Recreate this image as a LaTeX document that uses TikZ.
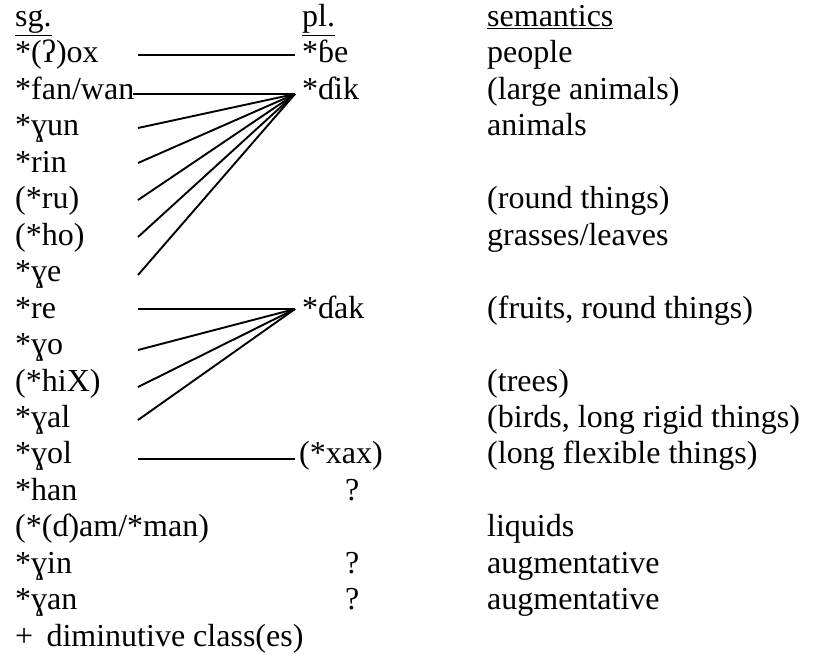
\documentclass[tikz,border=0pt]{standalone}
\usepackage{fontspec}
\setmainfont{Liberation Serif}
\begin{document}
\begin{tikzpicture}[x=1pt,y=-1pt,
  txt/.style={anchor=base west,inner sep=0pt,font=\fontsize{32}{36}\selectfont},
  conn/.style={line width=1.9pt}]
\useasboundingbox (0,0) rectangle (814,657);
\def\rowy#1{18.5+36.45*#1+8}
% headers
\node[txt] (hsg) at (15,{\rowy{0}}) {\underline{sg.}};
\node[txt] (hpl) at (302,{\rowy{0}}) {\underline{pl.}};
\node[txt] (hsem) at (487,{\rowy{0}}) {\underline{semantics}};
% singular column
\node[txt] (s1) at (15,{\rowy{1}}) {*(ʔ)ox};
\node[txt] (s2) at (15,{\rowy{2}}) {*fan/wan};
\node[txt] (s3) at (15,{\rowy{3}}) {*ɣun};
\node[txt] (s4) at (15,{\rowy{4}}) {*rin};
\node[txt] (s5) at (15,{\rowy{5}}) {(*ru)};
\node[txt] (s6) at (15,{\rowy{6}}) {(*ho)};
\node[txt] (s7) at (15,{\rowy{7}}) {*ɣe};
\node[txt] (s8) at (15,{\rowy{8}}) {*re};
\node[txt] (s9) at (15,{\rowy{9}}) {*ɣo};
\node[txt] (s10) at (15,{\rowy{10}}) {(*hiX)};
\node[txt] (s11) at (15,{\rowy{11}}) {*ɣal};
\node[txt] (s12) at (15,{\rowy{12}}) {*ɣol};
\node[txt] (s13) at (15,{\rowy{13}}) {*han};
\node[txt] (s14) at (15,{\rowy{14}}) {(*(ɗ)am/*man)};
\node[txt] (s15) at (15,{\rowy{15}}) {*ɣin};
\node[txt] (s16) at (15,{\rowy{16}}) {*ɣan};
\node[txt] (s17) at (15,{\rowy{17}}) {+\, diminutive class(es)};
% plural column
\node[txt] (p1) at (302,{\rowy{1}}) {*ɓe};
\node[txt] (p2) at (302,{\rowy{2}}) {*ɗik};
\node[txt] (p8) at (302,{\rowy{8}}) {*ɗak};
\node[txt] (p12) at (299,{\rowy{12}}) {(*xax)};
\node[txt] (p13) at (345,{\rowy{13}}) {?};
\node[txt] (p15) at (345,{\rowy{15}}) {?};
\node[txt] (p16) at (345,{\rowy{16}}) {?};
% semantics column
\node[txt] (m1) at (487,{\rowy{1}}) {people};
\node[txt] (m2) at (487,{\rowy{2}}) {(large animals)};
\node[txt] (m3) at (487,{\rowy{3}}) {animals};
\node[txt] (m5) at (487,{\rowy{5}}) {(round things)};
\node[txt] (m6) at (487,{\rowy{6}}) {grasses/leaves};
\node[txt] (m8) at (487,{\rowy{8}}) {(fruits, round things)};
\node[txt] (m10) at (487,{\rowy{10}}) {(trees)};
\node[txt] (m11) at (487,{\rowy{11}}) {(birds, long rigid things)};
\node[txt] (m12) at (487,{\rowy{12}}) {(long flexible things)};
\node[txt] (m14) at (487,{\rowy{14}}) {liquids};
\node[txt] (m15) at (487,{\rowy{15}}) {augmentative};
\node[txt] (m16) at (487,{\rowy{16}}) {augmentative};
% connector end points
\coordinate (c1) at (138,55);
\coordinate (e1) at (295,55);
\coordinate (c2) at (133,94);
\coordinate (k2) at (295,94);
\coordinate (c3) at (138,128);
\coordinate (c4) at (138,163);
\coordinate (c5) at (138,200);
\coordinate (c6) at (138,237);
\coordinate (c7) at (138,275);
\coordinate (c8) at (138,309);
\coordinate (k8) at (295,309);
\coordinate (c9) at (138,350);
\coordinate (c10) at (138,387);
\coordinate (c11) at (138,420);
\coordinate (c12) at (138,459);
\coordinate (e12) at (295,459);
% connectors
\draw[conn] (c1) -- (e1);
\foreach \i in {2,...,7} {\draw[conn] (c\i) -- (k2);}
\foreach \i in {8,...,11} {\draw[conn] (c\i) -- (k8);}
\draw[conn] (c12) -- (e12);
\end{tikzpicture}
\end{document}
